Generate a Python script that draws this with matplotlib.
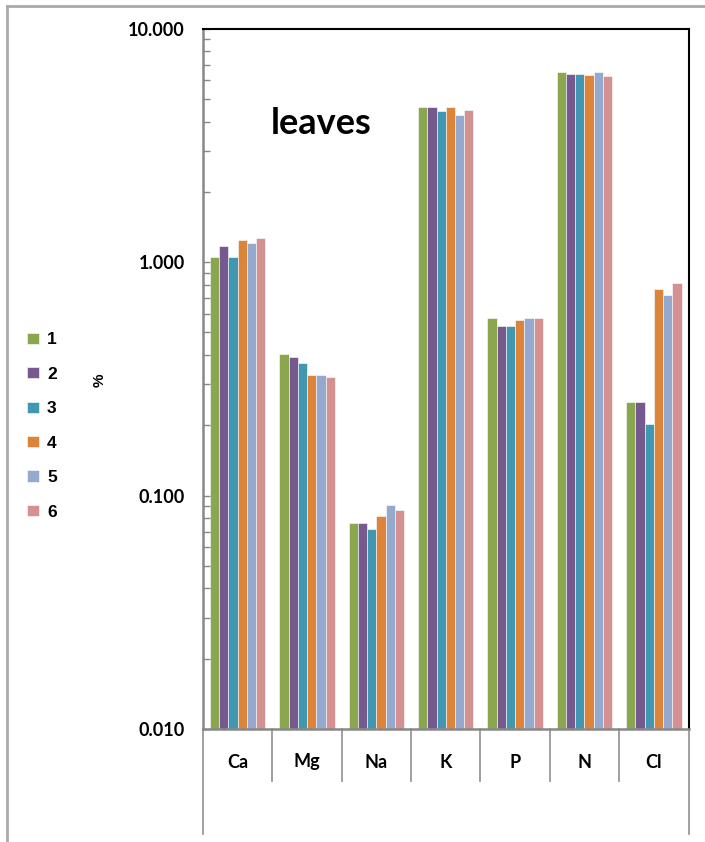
import matplotlib
matplotlib.use('Agg')
import matplotlib.pyplot as plt
from matplotlib.lines import Line2D
from matplotlib.ticker import LogLocator, FixedLocator, FuncFormatter
import numpy as np

elements = ['Ca', 'Mg', 'Na', 'K', 'P', 'N', 'Cl']
series_names = ['1', '2', '3', '4', '5', '6']
s1 = [1.05, 0.405, 0.0766, 4.60, 0.574, 6.50, 0.251]
s2 = [1.17, 0.393, 0.0766, 4.60, 0.530, 6.41, 0.251]
s3 = [1.05, 0.371, 0.0718, 4.42, 0.530, 6.41, 0.203]
s4 = [1.25, 0.330, 0.0815, 4.60, 0.566, 6.35, 0.766]
s5 = [1.21, 0.330, 0.0909, 4.28, 0.574, 6.50, 0.725]
s6 = [1.27, 0.321, 0.0871, 4.49, 0.579, 6.27, 0.810]
series = [s1, s2, s3, s4, s5, s6]
colors = ['#8AA64F', '#765A8F', '#4297B0', '#DD843B', '#95A9CF', '#D39192']
y_ticks = [0.01, 0.1, 1, 10]

fig = plt.figure(figsize=(7.05, 8.42), dpi=100)
ax = fig.add_axes([203 / 705, 1 - 729 / 842, 485.5 / 705, 700.3 / 842])

x = np.arange(len(elements))
w = 0.8 / len(series)
bars = []
for i, (vals, c) in enumerate(zip(series, colors)):
    b = ax.bar(x + (i - 2.5) * w, vals, width=w, color=c,
               edgecolor='white', linewidth=0.4, label=series_names[i])
    bars.append(b)

ax.set_yscale('log')
ax.set_ylim(0.01, 10)
ax.set_xlim(-0.5, len(elements) - 0.5)
ax.yaxis.set_major_locator(FixedLocator(y_ticks))
ax.yaxis.set_minor_locator(LogLocator(base=10, subs=np.arange(2, 10)))
ax.yaxis.set_major_formatter(FuncFormatter(lambda v, p: '%.3f' % v))
ax.tick_params(axis='y', which='major', direction='in', length=5, width=1,
               color='#888888', pad=13)
ax.tick_params(axis='y', which='minor', direction='in', length=5, width=1,
               color='#888888')
for lab in ax.get_yticklabels():
    lab.set_fontfamily('Lato')
    lab.set_fontweight('bold')
    lab.set_fontsize(13)
ax.set_xticks([])

ax.spines['left'].set_color('#888888')
ax.spines['left'].set_linewidth(1.8)
ax.spines['bottom'].set_color('#888888')
ax.spines['bottom'].set_linewidth(1.8)
ax.spines['top'].set_color('black')
ax.spines['top'].set_linewidth(1.5)
ax.spines['right'].set_color('black')
ax.spines['right'].set_linewidth(1.5)

# two-level category axis table below the plot
tr = ax.get_xaxis_transform()
h1 = 52 / 700.3
h2 = 105 / 700.3
for k in range(len(elements) + 1):
    xb = k - 0.5
    depth = h2 if k in (0, len(elements)) else h1
    ax.plot([xb, xb], [0, -depth], transform=tr, color='#999999', lw=1.3,
            clip_on=False)
for xi, name in zip(x, elements):
    ax.text(xi, -33 / 700.3, name, transform=tr, ha='center', va='center',
            fontsize=13, fontweight='bold', family='Lato')

fig.text(321 / 705, 1 - 124 / 842, 'leaves', ha='center', va='center',
         fontsize=26, fontweight='bold', family='Lato')

fig.text(100 / 705, 1 - 380 / 842, '%', ha='center', va='center',
         rotation=90, fontsize=11, fontweight='bold', family='Liberation Sans')

leg = fig.legend(handles=bars, labels=series_names, loc='center left',
                 bbox_to_anchor=(27 / 705, 1 - 426 / 842), frameon=False,
                 borderpad=0, borderaxespad=0, handlelength=0.7,
                 handleheight=0.62, handletextpad=0.45, labelspacing=1.12,
                 prop={'family': 'Liberation Sans', 'weight': 'bold',
                       'size': 12.5})

# outer chart-area border (partly cropped in the original)
fig.add_artist(Line2D([7 / 705, 7 / 705], [0, 1 - 5.5 / 842],
                      transform=fig.transFigure, color='#AAAAAA', lw=2))
fig.add_artist(Line2D([7 / 705, 1], [1 - 5.5 / 842, 1 - 5.5 / 842],
                      transform=fig.transFigure, color='#AAAAAA', lw=2))

fig.savefig('out.png', dpi=100)
